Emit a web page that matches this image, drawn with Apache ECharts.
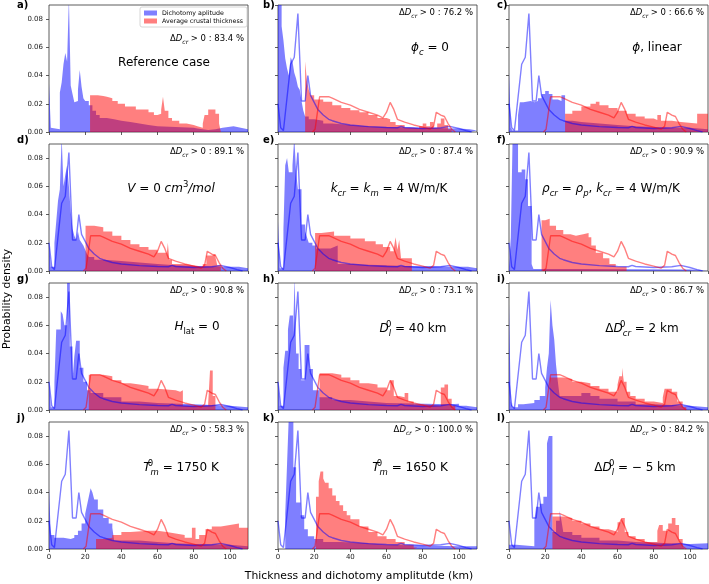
<!DOCTYPE html>
<html><head><meta charset="utf-8">
<script src="https://cdn.jsdelivr.net/npm/echarts@6/dist/echarts.min.js"></script>
<style>html,body{margin:0;padding:0;background:#fff}#c{width:709px;height:584px}</style>
</head><body><div id="c"></div>
<script>
// ---------- DATA ----------
const panelLetters = ['a)','b)','c)','d)','e)','f)','g)','h)','i)','j)','k)','l)'];
const deltaPercents = ['83.4','76.2','66.6','89.1','87.4','90.9','90.8','73.1','86.7','58.3','100.0','84.2'];
const xTickStep = 20, yTickStep = 0.02;
const seriesNames = ['Dichotomy aplitude','Average crustal thickness'];

// histograms as [bin left edge, density] steps
const blueA=[[0,0.034],[1,0.003],[2,0.002],[6,0.028],[7,0.035],[8,0.048],[9,0.056],[10,0.05],[11,0.095],[12,0.033],[13,0.027],[14,0.021],[15,0.022],[16,0.03],[17,0.044],[18,0.032],[19,0.024],[20,0.022],[22,0.019],[24,0.015],[26,0.012],[28,0.01],[32,0.009],[36,0.008],[40,0.007],[45,0.006],[50,0.005],[55,0.004],[60,0.0035],[70,0.003],[80,0.0025],[82,0.0015],[88,0.002],[92,0.003],[96,0.004],[102,0.003],[106,0.002],[110,0]];
const redA=[[22.7,0.026],[27,0.0255],[30,0.025],[32,0.024],[35,0.022],[38,0.02],[42,0.018],[48,0.016],[55,0.014],[58,0.012],[60,0.013],[62,0.016],[63,0.025],[64,0.015],[66,0.01],[68,0.008],[72,0.006],[76,0.005],[80,0.004],[82,0.003],[85,0.006],[86,0.012],[88,0.016],[92,0.013],[94,0.006],[95,0]];
const blueB=[[0,0.095],[2,0.075],[3,0.065],[4,0.052],[5,0.045],[6,0.04],[7,0.053],[8,0.05],[9,0.042],[10,0.038],[11,0.032],[12,0.03],[13,0.022],[14,0.015],[15,0.011],[17,0.009],[20,0.008],[25,0.006],[30,0.005],[40,0.004],[50,0.0035],[60,0.003],[80,0.0025],[100,0.002],[106,0.001],[110,0]];
const redB=[[15,0.05],[16,0.036],[17,0.03],[18,0.026],[20,0.023],[25,0.0215],[30,0.019],[35,0.017],[40,0.0155],[45,0.014],[50,0.012],[55,0.01],[60,0.009],[62,0.007],[65,0.005],[70,0.003],[75,0.0025],[78,0.004],[80,0.006],[82,0.004],[84,0.007],[86,0.003],[88,0.006],[90,0.0095],[92,0.005],[94,0.002],[96,0]];
const blueC=[[0,0.042],[1,0.003],[2,0.001],[5,0.012],[6,0.021],[8,0.022],[12,0.021],[14,0.022],[16,0.024],[18,0.027],[20,0.029],[22,0.027],[24,0.023],[27,0.022],[29,0.026],[31,0.008],[35,0.007],[40,0.006],[50,0.005],[60,0.004],[70,0.0035],[80,0.003],[90,0.003],[100,0.0025],[105,0.002],[110,0]];
const redC=[[31,0.013],[35,0.015],[40,0.018],[45,0.02],[48,0.0215],[50,0.019],[55,0.017],[60,0.015],[65,0.013],[70,0.011],[75,0.0095],[80,0.0085],[82,0.012],[84,0.008],[90,0.007],[95,0.006],[104,0.013],[110,0.013]];
const blueD=[[0,0.019],[1,0.003],[3,0.02],[4,0.035],[5,0.05],[6,0.058],[7,0.095],[8,0.06],[9,0.068],[10,0.075],[11,0.06],[12,0.042],[13,0.03],[14,0.025],[15,0.022],[16,0.028],[17,0.022],[18,0.02],[19,0.018],[20,0.015],[21,0.012],[22,0.01],[25,0.008],[30,0.007],[40,0.006],[50,0.005],[60,0.004],[70,0.0035],[80,0.003],[100,0.003],[105,0.002],[110,0]];
const redD=[[20.2,0.032],[25,0.031],[30,0.028],[35,0.025],[40,0.022],[45,0.019],[50,0.017],[55,0.015],[60,0.013],[65,0.011],[65.7,0.02],[66.5,0.008],[68,0.005],[75,0.004],[80,0.003],[85,0.005],[87,0.011],[90,0.012],[92,0.01],[93,0.004],[95,0]];
const blueE=[[0,0.035],[1,0.002],[3,0.03],[4,0.075],[5,0.08],[6,0.07],[8,0.075],[9,0.095],[10,0.07],[11,0.058],[13,0.033],[15,0.028],[16,0.024],[17,0.02],[19,0.018],[21,0.016],[25,0.016],[29,0.017],[31,0.018],[33,0.005],[40,0.0045],[50,0.004],[60,0.0035],[70,0.003],[100,0.003],[105,0.002],[110,0]];
const redE=[[20.5,0.027],[24,0.028],[31,0.025],[40,0.023],[48,0.021],[54,0.019],[58,0.017],[62,0.014],[64,0.016],[65,0.024],[66,0.015],[67,0.022],[68,0.009],[74,0]];
const blueF=[[0,0.003],[1,0.024],[2,0.095],[5,0.07],[7,0.072],[9,0.065],[10.5,0.046],[12.5,0.005],[13.5,0.0015],[40,0.001],[100,0.0005],[110,0]];
const redF=[[18,0.036],[20,0.037],[22.5,0.032],[26,0.029],[30,0.026],[34,0.025],[37,0.026],[41,0.027],[44,0.024],[45.5,0.018],[48,0.013],[52,0.009],[55.5,0.005],[59,0.003],[65,0]];
const blueG=[[0,0.02],[1,0.002],[3,0.02],[4,0.057],[6.5,0.07],[7.5,0.068],[8.5,0.06],[10,0.095],[11.5,0.045],[13,0.021],[14,0.038],[15,0.049],[17,0.03],[19,0.02],[21,0.014],[23,0.012],[30,0.009],[40,0.006],[50,0.005],[60,0.004],[80,0.003],[100,0.002],[110,0]];
const redG=[[22,0.025],[30,0.024],[35,0.021],[40,0.019],[45,0.018],[50,0.017],[55,0.015],[60,0.014],[70,0.013],[72.5,0.014],[74,0.003],[84,0.003],[88,0.005],[89,0.028],[90.5,0.01],[92,0]];
const blueH=[[0,0.02],[1,0.003],[3,0.03],[4,0.042],[5.5,0.057],[6.5,0.067],[8.3,0.053],[9.2,0.095],[10,0.04],[11.4,0.029],[12.8,0.021],[14.7,0.046],[17.4,0.029],[19.3,0.014],[23,0.009],[30,0.007],[40,0.006],[50,0.005],[60,0.004],[95,0.0045],[100,0.003],[104,0.002],[110,0]];
const redH=[[23,0.026],[30,0.025],[35,0.023],[40,0.021],[45,0.019],[50,0.018],[55,0.016],[60,0.014],[62,0.021],[64,0.01],[67,0.009],[70,0.012],[72,0.006],[75,0.004],[80,0.003],[90,0.016],[92,0.018],[94,0.008],[96,0.003],[98,0]];
const blueI=[[0,0.075],[1,0.006],[2,0.002],[5,0.004],[8,0.005],[14,0.007],[17,0.01],[20,0.016],[21,0.03],[22,0.04],[23,0.078],[24,0.06],[25,0.05],[26,0.032],[27,0.02],[28,0.01],[40,0.012],[45,0.01],[50,0.008],[60,0.006],[70,0.004],[80,0.0035],[90,0.003],[100,0.002],[110,0]];
const redI=[[22.6,0.023],[30,0.022],[35,0.02],[40,0.019],[45,0.017],[50,0.015],[55,0.013],[60,0.018],[61,0.024],[62.5,0.03],[63.5,0.02],[65,0.013],[67,0.01],[70,0.008],[75,0.006],[80,0.005],[85,0.009],[86,0.015],[90,0.013],[93,0.006],[96,0.002],[98,0]];
const blueJ=[[0,0.043],[1,0.01],[3,0.008],[8,0.007],[12,0.008],[14,0.01],[16,0.013],[18,0.018],[20,0.025],[21,0.031],[22,0.037],[23,0.043],[24,0.04],[25,0.035],[27,0.028],[30,0.022],[33,0.018],[35,0.015],[36,0.006],[50,0.005],[60,0.004],[70,0.0035],[80,0.003],[100,0.002],[110,0]];
const redJ=[[26,0.007],[30,0.008],[35,0.01],[40,0.012],[45,0.013],[55,0.013],[60,0.012],[65,0.011],[70,0.01],[75,0.008],[79,0.015],[81,0.007],[83,0.01],[86.5,0.014],[90,0.016],[95,0.017],[100,0.018],[105,0.015],[110,0.015]];
const blueK=[[0,0],[4,0.025],[5,0.06],[6,0.095],[8.5,0.058],[10,0.033],[12.5,0.024],[14.5,0.014],[16.5,0.009],[20,0.007],[25,0.005],[35,0.004],[50,0.003],[60,0.002],[100,0.002],[110,0]];
const redK=[[21,0.037],[22.5,0.048],[23.5,0.055],[25,0.05],[26,0.047],[28,0.043],[30,0.038],[32,0.034],[34,0.031],[36,0.027],[38,0.024],[40,0.021],[45,0.016],[50,0.012],[55,0.009],[60,0.007],[65,0.005],[70,0.003],[75,0.001],[77,0]];
const blueL=[[0,0.003],[4,0.002],[14,0.02],[15,0.03],[17,0.032],[19,0.037],[21,0.075],[22,0.08],[24,0.012],[26,0.02],[28,0.027],[29,0.02],[30,0.012],[35,0.01],[40,0.008],[50,0.006],[60,0.005],[70,0.004],[90,0.0035],[100,0.004],[110,0]];
const redL=[[24,0.023],[27,0.023],[30,0.022],[35,0.02],[40,0.018],[45,0.016],[50,0.014],[55,0.013],[58,0.012],[60,0.019],[62,0.022],[64,0.012],[66,0.009],[70,0.007],[75,0.005],[82,0.013],[83,0.017],[85,0.013],[88,0.018],[90,0.022],[92,0.017],[94,0.007],[96,0.002],[97,0]];

// reference-case outlines shown in panels b-l
const refBlueLine=[[0,0.02],[1.5,0.003],[3,0.001],[4,0.002],[7,0.048],[9,0.053],[11,0.084],[13,0.022],[15,0.022],[16.5,0.04],[18,0.026],[20,0.021],[22,0.016],[25,0.012],[28,0.009],[30,0.008],[35,0.006],[40,0.005],[50,0.0038],[60,0.0032],[66,0.003],[68,0.004],[70,0.0032],[80,0.0025],[90,0.003],[95,0.004],[100,0.0025],[104,0.001],[107,0]];
const refRedLine=[[19,0],[20.5,0.002],[23,0.025],[28,0.025],[30,0.024],[35,0.021],[40,0.019],[45,0.016],[50,0.014],[55,0.012],[58,0.01],[60,0.014],[62,0.021],[64,0.016],[66,0.009],[70,0.007],[75,0.005],[80,0.0035],[84,0.002],[86,0.004],[87.5,0.014],[90,0.012],[92,0.011],[94,0.006],[96,0.002],[98,0]];

const blueHists=[blueA,blueB,blueC,blueD,blueE,blueF,blueG,blueH,blueI,blueJ,blueK,blueL];
const redHists=[redA,redB,redC,redD,redE,redF,redG,redH,redI,redJ,redK,redL];

const panelTitles=[
 '{n|Reference case}',
 '{i|ϕ}{sb|c}{n| = 0}',
 '{i|ϕ}{n|, linear}',
 '{i|V}{n| = 0 }{i|cm}{su|3}{i|/mol}',
 '{i|k}{sb|cr}{n| = }{i|k}{sb|m}{n| = 4 W/m/K}',
 '{i|ρ}{sb|cr}{n| = }{i|ρ}{sb|p}{n|, }{i|k}{sb|cr}{n| = 4 W/m/K}',
 '{i|H}{sbu|lat}{n| = 0}',
 '{i|D}{su0|0}{sb|l}{n| = 40 km}',
 '{n|Δ}{i|D}{su0|0}{sb|cr}{n| = 2 km}',
 '{i|T}{su0|0}{sb|m}{n| = 1750 K}',
 '{i|T}{su0|0}{sb|m}{n| = 1650 K}',
 '{n|Δ}{i|D}{su0|0}{sb|l}{n| = − 5 km}'
];

// ---------- LAYOUT ----------
const FONT='DejaVu Sans';
const lefts=[49,278,509], tops=[5,144,283,422], W=199, H=127;
const titlePos=[[164,63],[430,48],[657,48],[171,189],[389,189],[611,189],[197,327],[413,329],[642,329],[181,468],[410,468],[635,468]];
const BLUE='rgba(0,0,255,0.5)', RED='rgba(255,0,0,0.5)';

const bigRich={
 n:{fontSize:12,fontFamily:FONT,lineHeight:18,color:'#000'},
 i:{fontSize:12,fontFamily:FONT,fontStyle:'italic',lineHeight:18,color:'#000'},
 sb:{fontSize:8.5,fontFamily:FONT,fontStyle:'italic',lineHeight:9,verticalAlign:'bottom',color:'#000'},
 sbu:{fontSize:8.5,fontFamily:FONT,lineHeight:9,verticalAlign:'bottom',color:'#000'},
 su:{fontSize:8.5,fontFamily:FONT,lineHeight:9,verticalAlign:'top',color:'#000'},
 su0:{fontSize:8.5,fontFamily:FONT,lineHeight:9,verticalAlign:'top',width:0,color:'#000'}
};
const smallRich={
 n:{fontSize:8.5,fontFamily:FONT,lineHeight:12,color:'#000'},
 i:{fontSize:8.5,fontFamily:FONT,fontStyle:'italic',lineHeight:12,color:'#000'},
 sb:{fontSize:6,fontFamily:FONT,fontStyle:'italic',lineHeight:6,verticalAlign:'bottom',color:'#000'}
};

const grids=[],xAxes=[],yAxes=[],series=[],graphics=[];
for(let p=0;p<12;p++){
  const col=p%3,row=Math.floor(p/3);
  const L=lefts[col],T=tops[row];
  grids.push({left:L,top:T,width:W,height:H,show:true,borderColor:'#333',borderWidth:0.8,backgroundColor:'rgba(0,0,0,0)'});
  xAxes.push({type:'value',gridIndex:p,min:0,max:110,interval:xTickStep,
    axisLine:{show:false},splitLine:{show:false},
    axisTick:{show:true,length:3,lineStyle:{color:'#333',width:0.8}},
    axisLabel:{show:row===3,fontSize:7,color:'#222',margin:5,fontFamily:FONT,showMaxLabel:false}});
  yAxes.push({type:'value',gridIndex:p,min:0,max:0.09,interval:yTickStep,
    axisLine:{show:false},splitLine:{show:false},
    axisTick:{show:true,length:3,lineStyle:{color:'#333',width:0.8}},
    axisLabel:{show:col===0,fontSize:7,color:'#222',margin:6,fontFamily:FONT,showMaxLabel:false,formatter:v=>v.toFixed(2)}});
  const hist=(data,color,name)=>({type:'line',name:name,xAxisIndex:p,yAxisIndex:p,data:data,step:'end',
    symbol:'none',silent:true,animation:false,lineStyle:{width:0,opacity:0},
    itemStyle:{color:color},areaStyle:{color:color,opacity:1}});
  series.push(hist(blueHists[p],BLUE,seriesNames[0]));
  series.push(hist(redHists[p],RED,seriesNames[1]));
  if(p>0){
    series.push({type:'line',xAxisIndex:p,yAxisIndex:p,data:refBlueLine,symbol:'none',silent:true,animation:false,
      lineStyle:{color:BLUE,width:1.4},z:3});
    series.push({type:'line',xAxisIndex:p,yAxisIndex:p,data:refRedLine,symbol:'none',silent:true,animation:false,
      lineStyle:{color:RED,width:1.4},z:3});
  }
  // panel letter
  const lx = col===0?17:(col===1?263:497);
  const ly = row===0?5.5:T-3.5;
  graphics.push({type:'text',x:lx,y:ly,z:100,style:{text:panelLetters[p],font:'bold 10px "DejaVu Sans"',fill:'#000',textAlign:'left',textVerticalAlign:'middle',align:'left',verticalAlign:'middle'}});
  // delta annotation
  const ay = p===0?39:T+8;
  graphics.push({type:'text',x:L+W-4,y:ay,z:100,style:{text:'{n|Δ}{i|D}{sb|cr}{n| > 0 : '+deltaPercents[p]+' %}',rich:smallRich,fill:'#000',textAlign:'right',textVerticalAlign:'middle',align:'right',verticalAlign:'middle'}});
  // big label
  graphics.push({type:'text',x:titlePos[p][0],y:titlePos[p][1],z:100,style:{text:panelTitles[p],rich:bigRich,fill:'#000',textAlign:'center',textVerticalAlign:'middle',align:'center',verticalAlign:'middle'}});
}
graphics.push({type:'text',x:359,y:576,z:100,style:{text:'Thickness and dichotomy amplitutde (km)',font:'10.8px "DejaVu Sans"',fill:'#000',textAlign:'center',textVerticalAlign:'middle',align:'center',verticalAlign:'middle'}});
graphics.push({type:'text',x:7,y:299,rotation:Math.PI/2,z:100,style:{text:'Probability density',font:'10.8px "DejaVu Sans"',fill:'#000',textAlign:'center',textVerticalAlign:'middle',align:'center',verticalAlign:'middle'}});

const chart=echarts.init(document.getElementById('c'),null,{renderer:'canvas'});
chart.setOption({
  animation:false,
  backgroundColor:'#fff',
  grid:grids,xAxis:xAxes,yAxis:yAxes,series:series,graphic:graphics,
  legend:{show:true,orient:'vertical',left:140,top:7,itemWidth:13,itemHeight:5,itemGap:2,icon:'rect',
    padding:[3,4,3,4],borderColor:'#ccc',borderWidth:0.8,borderRadius:2,backgroundColor:'rgba(255,255,255,0.8)',
    textStyle:{fontSize:6.3,fontFamily:FONT,color:'#000'},selectedMode:false,
    data:[{name:seriesNames[0],itemStyle:{color:BLUE}},{name:seriesNames[1],itemStyle:{color:RED}}]}
});
</script></body></html>
